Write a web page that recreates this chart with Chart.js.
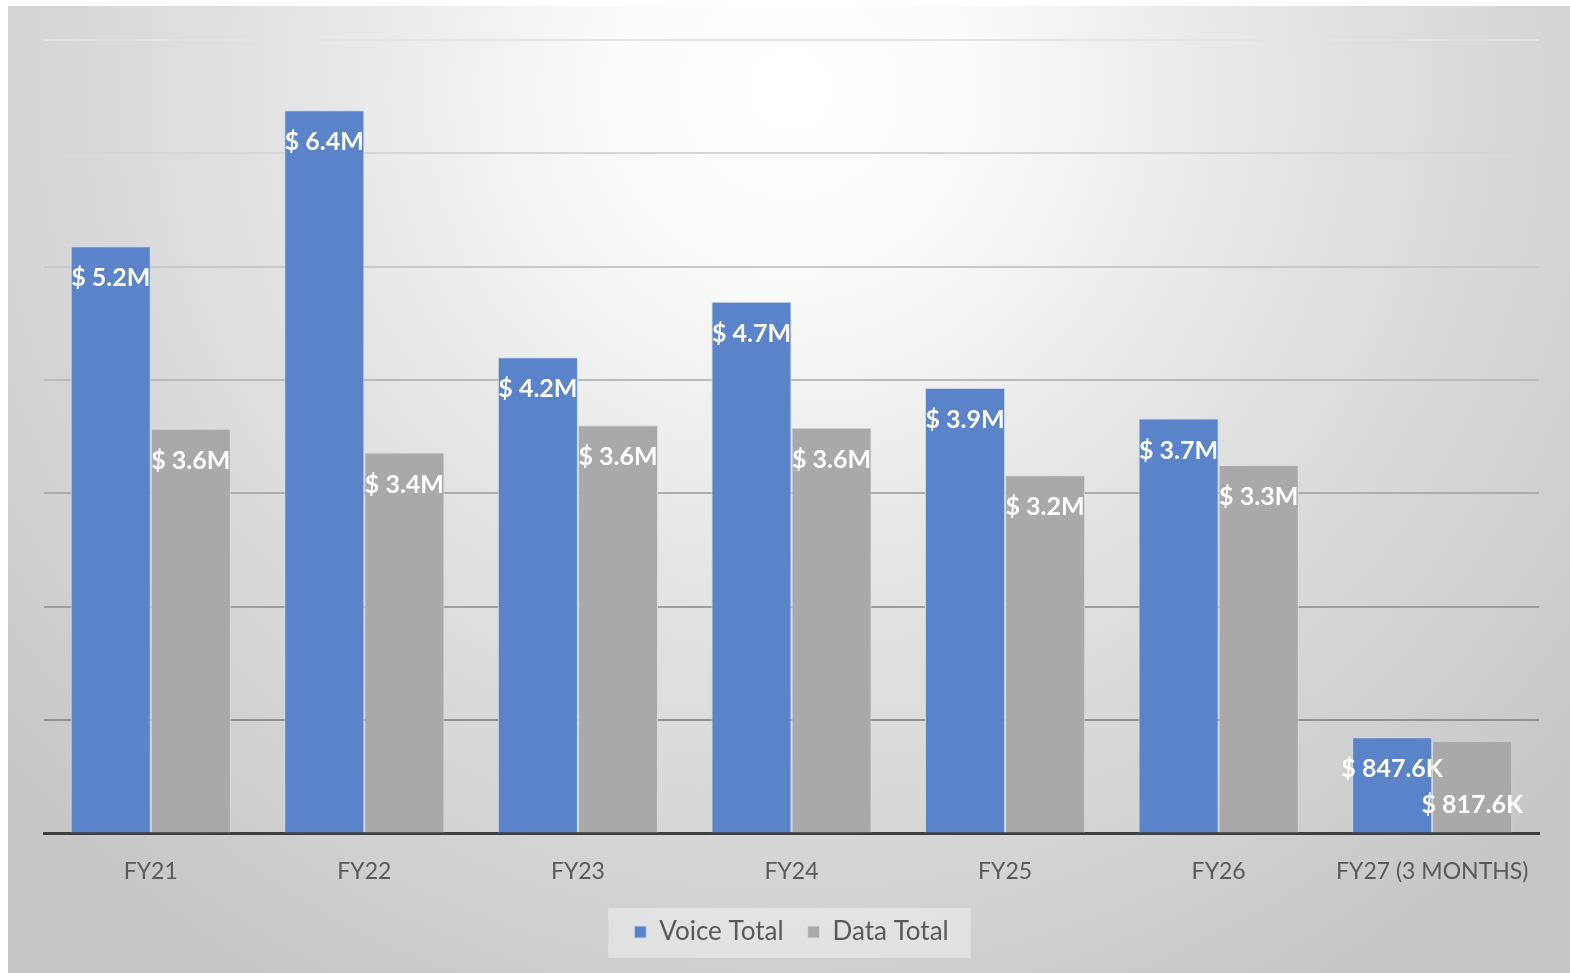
<!DOCTYPE html>
<html>
<head>
  <title>Voice vs Data Total</title>
  <style>
    body {
      margin: 0;
      overflow: hidden;
      background: #ffffff;
    }
    #chart-container {
      width: 1570px;
      height: 973px;
    }
  </style>
</head>
<body>
  <div id="chart-container">
    <canvas id="cost-chart"></canvas>
  </div>
  <script src="https://cdn.jsdelivr.net/npm/chart.js"></script>
  <script>
    // chart data (values in millions of dollars)
    const fiscalYears = ["FY21", "FY22", "FY23", "FY24", "FY25", "FY26", "FY27 (3 MONTHS)"];
    const voiceTotal = [5.18, 6.38, 4.2, 4.69, 3.93, 3.66, 0.8476];
    const dataTotal = [3.57, 3.36, 3.6, 3.58, 3.16, 3.25, 0.8176];
    const gridSteps = [0, 1, 2, 3, 4, 5, 6, 7];

    const FONT = "Lato, 'Open Sans', sans-serif";

    function moneyLabel(v) {
      if (v >= 1) return "$ " + v.toFixed(1) + "M";
      return "$ " + (v * 1000).toFixed(1) + "K";
    }

    // gradient backdrop plus the legend panel
    const backdrop = {
      id: "backdrop",
      beforeDraw(chart) {
        const ctx = chart.ctx;
        const w = chart.width, h = chart.height;
        ctx.save();
        ctx.fillStyle = "#ffffff";
        ctx.fillRect(0, 0, w, h);
        const g = ctx.createRadialGradient(790, 90, 20, 790, 90, 1050);
        g.addColorStop(0, "#ffffff");
        g.addColorStop(0.15, "#fbfbfb");
        g.addColorStop(0.5, "#e2e2e2");
        g.addColorStop(1, "#c6c6c6");
        ctx.fillStyle = g;
        ctx.fillRect(8, 6, w - 8, h - 6);

        const boxes = chart.legend && chart.legend.legendHitBoxes;
        if (boxes && boxes.length) {
          let l = Infinity, r = -Infinity, t = Infinity, b = -Infinity;
          boxes.forEach(bx => {
            l = Math.min(l, bx.left); r = Math.max(r, bx.left + bx.width);
            t = Math.min(t, bx.top); b = Math.max(b, bx.top + bx.height);
          });
          ctx.fillStyle = "rgba(240,240,240,0.55)";
          ctx.fillRect(l - 26, t - 11, r - l + 48, b - t + 24);
        }
        ctx.restore();
      }
    };

    // value labels inside the top of each bar
    const barLabels = {
      id: "barLabels",
      afterDatasetsDraw(chart) {
        const ctx = chart.ctx;
        ctx.save();
        ctx.font = "bold 25px " + FONT;
        ctx.fillStyle = "#ffffff";
        ctx.textAlign = "center";
        ctx.textBaseline = "middle";
        const placed = [];
        const n = chart.data.labels.length;
        for (let i = 0; i < n; i++) {
          chart.data.datasets.forEach((ds, di) => {
            const bar = chart.getDatasetMeta(di).data[i];
            const text = moneyLabel(ds.data[i]);
            const tw = ctx.measureText(text).width;
            let y = bar.y + 32;
            const x = bar.x;
            let hit = true;
            while (hit) {
              hit = placed.some(p => Math.abs(p.x - x) < (p.w + tw) / 2 && Math.abs(p.y - y) < 24);
              if (hit) y += 32;
            }
            placed.push({ x: x, y: y, w: tw });
            ctx.fillText(text, x, y);
          });
        }
        ctx.restore();
      }
    };

    const chart = new Chart(document.getElementById("cost-chart"), {
      type: "bar",
      data: {
        labels: fiscalYears,
        datasets: [{
          label: "Voice Total",
          data: voiceTotal,
          backgroundColor: "#5b83c9",
          borderColor: "#c9d8f0",
          borderWidth: 1
        }, {
          label: "Data Total",
          data: dataTotal,
          backgroundColor: "#a9a9a9",
          borderColor: "#dcdcdc",
          borderWidth: 1
        }]
      },
      options: {
        responsive: true,
        maintainAspectRatio: false,
        animation: false,
        layout: {
          padding: { left: 44, right: 31, top: 40, bottom: 18 }
        },
        datasets: {
          bar: { categoryPercentage: 0.75, barPercentage: 1 }
        },
        scales: {
          x: {
            afterFit(scale) { scale.height -= 14; },
            grid: { display: false, drawTicks: false },
            border: { display: true, color: "#3f3f3f", width: 3 },
            ticks: {
              color: "#595959",
              padding: 24,
              maxRotation: 0,
              font: { family: FONT, size: 23 }
            }
          },
          y: {
            min: gridSteps[0],
            max: gridSteps[gridSteps.length - 1],
            afterFit(scale) { scale.width = 0; },
            afterBuildTicks(scale) { scale.ticks = gridSteps.map(v => ({ value: v })); },
            ticks: { display: false },
            border: { display: false },
            grid: {
              drawTicks: false,
              lineWidth: 2,
              color(ctx) {
                const v = ctx.tick ? ctx.tick.value : 0;
                const shade = Math.round(130 + v * 14);
                return "rgb(" + shade + "," + shade + "," + shade + ")";
              }
            }
          }
        },
        plugins: {
          legend: {
            position: "bottom",
            labels: {
              color: "#595959",
              font: { family: FONT, size: 26 },
              usePointStyle: true,
              pointStyle: "rect",
              boxWidth: 12,
              boxHeight: 12,
              padding: 24
            }
          },
          tooltip: { enabled: false }
        }
      },
      plugins: [backdrop, barLabels]
    });
  </script>
</body>
</html>
